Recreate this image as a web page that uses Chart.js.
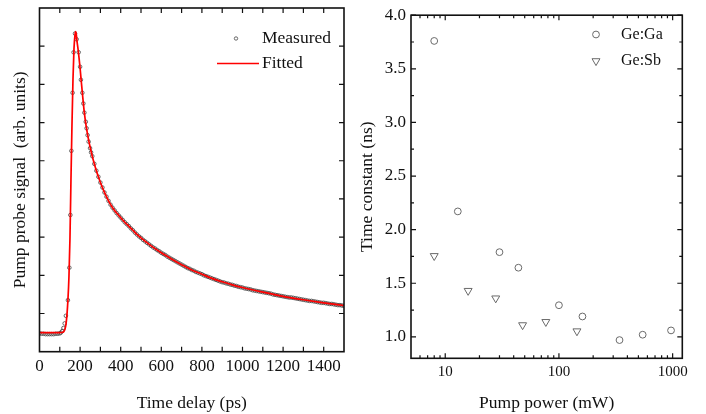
<!DOCTYPE html>
<html>
<head>
<meta charset="utf-8">
<script src="https://cdn.jsdelivr.net/npm/chart.js@4.4.1/dist/chart.umd.min.js"></script>
<style>
  body { margin: 0; background: #fff; }
  #wrap { position: relative; width: 706px; height: 414px; }
  canvas { position: absolute; top: 0; }
  #decay { left: 0; }
  #power { left: 350px; }
</style>
</head>
<body>
<div id="wrap">
  <canvas id="decay" width="350" height="414"></canvas>
  <canvas id="power" width="356" height="414"></canvas>
</div>
<script>
// ---- left panel: pump probe transient ----
const measDelay = [0, 10, 20, 30, 40, 50, 60, 70, 80, 90, 100, 105, 112, 118, 124, 130,
  140, 147, 152, 157, 163, 168, 175, 183, 193, 200, 204, 211, 216, 221, 228, 232, 237, 242, 249, 254];
const measSignal = [0.48, 0.47, 0.47, 0.46, 0.46, 0.46, 0.46, 0.46, 0.47, 0.47, 0.48, 0.50, 0.54, 0.62, 0.74, 0.94,
  1.35, 2.20, 3.58, 5.26, 6.78, 7.84, 8.33, 8.18, 7.84, 7.46, 7.12, 6.78, 6.50, 6.26, 6.02, 5.85, 5.67, 5.50, 5.33, 5.22];

// decay tail, sampled every 10 ps from 260 ps
const tailStart = 260;
const tailStep = 10;
const tailSignal = [
  5.12, 4.92, 4.74, 4.58, 4.43, 4.30, 4.17, 4.06, 3.95, 3.85,
  3.77, 3.70, 3.63, 3.57, 3.51, 3.45, 3.39, 3.34, 3.29, 3.23,
  3.18, 3.12, 3.07, 3.02, 2.98, 2.93, 2.89, 2.85, 2.81, 2.77,
  2.73, 2.70, 2.66, 2.63, 2.59, 2.56, 2.53, 2.49, 2.46, 2.43,
  2.40, 2.37, 2.34, 2.31, 2.28, 2.25, 2.22, 2.19, 2.17, 2.14,
  2.12, 2.09, 2.07, 2.05, 2.03, 2.00, 1.98, 1.96, 1.94, 1.92,
  1.90, 1.88, 1.86, 1.84, 1.82, 1.81, 1.79, 1.78, 1.76, 1.75,
  1.73, 1.72, 1.70, 1.69, 1.68, 1.66, 1.65, 1.64, 1.63, 1.61,
  1.60, 1.59, 1.58, 1.57, 1.56, 1.55, 1.54, 1.53, 1.52, 1.50,
  1.49, 1.48, 1.47, 1.46, 1.45, 1.44, 1.43, 1.42, 1.42, 1.41,
  1.40, 1.39, 1.38, 1.37, 1.36, 1.35, 1.34, 1.33, 1.33, 1.32,
  1.31, 1.30, 1.29, 1.28, 1.28, 1.27, 1.26, 1.25, 1.25, 1.24,
  1.23, 1.22, 1.22, 1.21, 1.20
];

const fitDelay = [0, 100, 115, 120, 125, 130, 135, 140, 145, 150, 155, 160, 165, 170, 175, 178, 181, 185, 190, 195,
  200, 205, 210, 215, 220, 230, 240, 250, 260, 270, 280, 290, 300, 320, 340, 360, 380, 400, 420, 440,
  460, 480, 500, 550, 600, 650, 700, 750, 800, 850, 900, 950, 1000, 1100, 1200, 1300, 1400, 1500];
const fitSignal = [0.50, 0.50, 0.51, 0.53, 0.58, 0.70, 0.95, 1.35, 1.95, 2.95, 4.50, 5.95, 7.15, 7.95, 8.30, 8.38, 8.32, 8.12, 7.92, 7.68,
  7.42, 7.12, 6.84, 6.56, 6.30, 5.90, 5.60, 5.34, 5.12, 4.92, 4.74, 4.58, 4.43, 4.17, 3.95, 3.77, 3.63, 3.51, 3.39, 3.29,
  3.18, 3.07, 2.98, 2.77, 2.59, 2.43, 2.28, 2.14, 2.03, 1.92, 1.83, 1.75, 1.68, 1.56, 1.45, 1.36, 1.28, 1.21];

const decayXLabels = [0, 200, 400, 600, 800, 1000, 1200, 1400];
const decayXMarks = [100, 200, 300, 400, 500, 600, 700, 800, 900, 1000, 1100, 1200, 1300, 1400];
const decayYMarks = [1, 2, 3, 4, 5, 6, 7, 8];

// ---- right panel: time constant vs pump power ----
const pumpGa = [8.0, 12.9, 30, 44, 100, 161, 341, 545, 968];
const tauGa = [3.76, 2.17, 1.79, 1.645, 1.295, 1.19, 0.97, 1.02, 1.06];
const pumpSb = [8.0, 15.9, 27.8, 47.9, 76.7, 144];
const tauSb = [1.755, 1.43, 1.36, 1.11, 1.14, 1.053];

const powerXLabels = [10, 100, 1000];
const powerXMinor = [6, 7, 8, 9, 20, 30, 40, 50, 60, 70, 80, 90, 200, 300, 400, 500, 600, 700, 800, 900];
const powerYLabels = [1.0, 1.5, 2.0, 2.5, 3.0, 3.5, 4.0];
const powerYMinor = [1.25, 1.75, 2.25, 2.75, 3.25, 3.75];

const serif = 'Liberation Serif, Times New Roman, serif';
const ink = '#111';
const markGray = '#6a6a6a';

// box frame with inward ticks on all four sides
const frameTicks = {
  id: 'frameTicks',
  afterDraw(chart, args, o) {
    const { ctx, chartArea: a, scales } = chart;
    ctx.save();
    ctx.strokeStyle = ink;
    ctx.lineWidth = 1.2;
    ctx.beginPath();
    const xt = (list, len) => list.forEach(v => {
      const p = scales.x.getPixelForValue(v);
      ctx.moveTo(p, a.bottom); ctx.lineTo(p, a.bottom - len);
      ctx.moveTo(p, a.top); ctx.lineTo(p, a.top + len);
    });
    const yt = (list, len) => list.forEach(v => {
      const p = scales.y.getPixelForValue(v);
      ctx.moveTo(a.left, p); ctx.lineTo(a.left + len, p);
      ctx.moveTo(a.right, p); ctx.lineTo(a.right - len, p);
    });
    xt(o.xMajor || [], o.major);
    xt(o.xMinor || [], o.minor);
    yt(o.yMajor || [], o.major);
    yt(o.yMinor || [], o.minor);
    ctx.stroke();
    ctx.lineWidth = 1.6;
    ctx.strokeRect(a.left, a.top, a.right - a.left, a.bottom - a.top);
    ctx.restore();
  }
};

function drawMarker(ctx, kind, x, y, r) {
  ctx.beginPath();
  if (kind === 'circle') {
    ctx.arc(x, y, r, 0, Math.PI * 2);
  } else {
    // downward triangle
    ctx.moveTo(x, y + r);
    ctx.lineTo(x - r * 0.866, y - r * 0.5);
    ctx.lineTo(x + r * 0.866, y - r * 0.5);
    ctx.closePath();
  }
  ctx.stroke();
}

// legend sitting inside the plot, top right
const insetLegend = {
  id: 'insetLegend',
  afterDraw(chart, args, o) {
    const { ctx } = chart;
    ctx.save();
    ctx.font = o.size + 'px ' + serif;
    ctx.fillStyle = ink;
    ctx.textBaseline = 'middle';
    o.items.forEach((it, i) => {
      const ds = chart.data.datasets[i];
      const y = o.y + i * o.gap;
      if (it === 'line') {
        ctx.strokeStyle = ds.borderColor;
        ctx.lineWidth = ds.borderWidth;
        ctx.beginPath();
        ctx.moveTo(o.lineFrom, y); ctx.lineTo(o.lineTo, y);
        ctx.stroke();
      } else {
        ctx.strokeStyle = ds.pointBorderColor;
        ctx.lineWidth = ds.pointBorderWidth;
        drawMarker(ctx, it, o.markX, y, it === 'circle' ? o.r : o.r * 1.35);
      }
      ctx.fillText(ds.label, o.textX, y);
    });
    ctx.restore();
  }
};

const measuredPts = measDelay.map((t, i) => ({ x: t, y: measSignal[i] }))
  .concat(tailSignal.map((v, i) => ({ x: tailStart + i * tailStep, y: v })));
const fittedPts = fitDelay.map((t, i) => ({ x: t, y: fitSignal[i] }));

new Chart(document.getElementById('decay'), {
  type: 'scatter',
  data: {
    datasets: [
      {
        label: 'Measured', data: measuredPts, showLine: false, order: 1,
        pointRadius: 1.8, pointBorderWidth: 0.9, pointBorderColor: 'rgba(70,70,70,0.9)',
        pointBackgroundColor: 'rgba(0,0,0,0)'
      },
      {
        label: 'Fitted', data: fittedPts, showLine: true, order: 0,
        borderColor: '#ff0000', borderWidth: 1.7, pointRadius: 0, cubicInterpolationMode: 'monotone'
      }
    ]
  },
  options: {
    responsive: false, animation: false, devicePixelRatio: 1, events: [],
    layout: { padding: { top: 8, right: 6, left: 0, bottom: 0 } },
    plugins: {
      legend: { display: false }, tooltip: { enabled: false },
      frameTicks: { xMajor: decayXMarks, yMajor: decayYMarks, major: 5, minor: 5 },
      insetLegend: { items: ['circle', 'line'], size: 17.5, y: 38.5, gap: 25, markX: 236, r: 1.7,
        lineFrom: 217, lineTo: 259, textX: 262 }
    },
    scales: {
      x: {
        type: 'linear', min: 0, max: 1500,
        afterBuildTicks: s => { s.ticks = decayXLabels.map(v => ({ value: v })); },
        afterFit: s => { s.height = 62.3; },
        grid: { display: false, drawTicks: false }, border: { display: false },
        ticks: { padding: 5, color: ink, font: { family: serif, size: 17 }, maxRotation: 0, autoSkip: false,
          callback: v => String(v) },
        title: { display: true, text: 'Time delay (ps)', color: ink, font: { family: serif, size: 17.5 },
          padding: { top: 6, bottom: 0 } }
      },
      y: {
        min: 0, max: 9,
        afterFit: s => { s.width = 39.5; },
        grid: { display: false, drawTicks: false }, border: { display: false },
        ticks: { display: false },
        title: { display: true, text: 'Pump probe signal  (arb. units)', color: ink,
          font: { family: serif, size: 17.5 }, padding: { top: 10, bottom: 0 } }
      }
    }
  },
  plugins: [frameTicks, insetLegend]
});

new Chart(document.getElementById('power'), {
  type: 'scatter',
  data: {
    datasets: [
      {
        label: 'Ge:Ga', data: pumpGa.map((p, i) => ({ x: p, y: tauGa[i] })),
        pointStyle: 'circle', pointRadius: 3.4, pointBorderWidth: 1,
        pointBorderColor: markGray, pointBackgroundColor: 'rgba(0,0,0,0)'
      },
      {
        label: 'Ge:Sb', data: pumpSb.map((p, i) => ({ x: p, y: tauSb[i] })),
        pointStyle: 'triangle', rotation: 180, pointRadius: 4.6, pointBorderWidth: 1,
        pointBorderColor: markGray, pointBackgroundColor: 'rgba(0,0,0,0)'
      }
    ]
  },
  options: {
    responsive: false, animation: false, devicePixelRatio: 1, events: [],
    layout: { padding: { top: 7.3, right: 23.7, left: 0, bottom: 0 } },
    plugins: {
      legend: { display: false }, tooltip: { enabled: false },
      frameTicks: { xMajor: powerXLabels, xMinor: powerXMinor, yMajor: powerYLabels, yMinor: powerYMinor,
        major: 5, minor: 3 },
      insetLegend: { items: ['circle', 'triangle'], size: 16, y: 34.5, gap: 26.5, markX: 246, r: 3.4,
        textX: 271 }
    },
    scales: {
      x: {
        type: 'logarithmic', min: 5, max: 1216,
        afterBuildTicks: s => { s.ticks = powerXLabels.map(v => ({ value: v })); },
        afterFit: s => { s.height = 55.7; },
        grid: { display: false, drawTicks: false }, border: { display: false },
        ticks: { padding: 4.5, color: ink, font: { family: serif, size: 15 }, maxRotation: 0, autoSkip: false,
          callback: v => String(v) },
        title: { display: true, text: 'Pump power (mW)', color: ink, font: { family: serif, size: 17.5 },
          padding: { top: 3.5, bottom: 0 } }
      },
      y: {
        min: 0.8, max: 4.0,
        afterBuildTicks: s => { s.ticks = powerYLabels.map(v => ({ value: v })); },
        afterFit: s => { s.width = 61; },
        grid: { display: false, drawTicks: false }, border: { display: false },
        ticks: { padding: 5, color: ink, font: { family: serif, size: 17 }, callback: v => v.toFixed(1) },
        title: { display: true, text: 'Time constant (ns)', color: ink, font: { family: serif, size: 17.5 },
          padding: { top: 6.5, bottom: 0 } }
      }
    }
  },
  plugins: [frameTicks, insetLegend]
});
</script>
</body>
</html>
